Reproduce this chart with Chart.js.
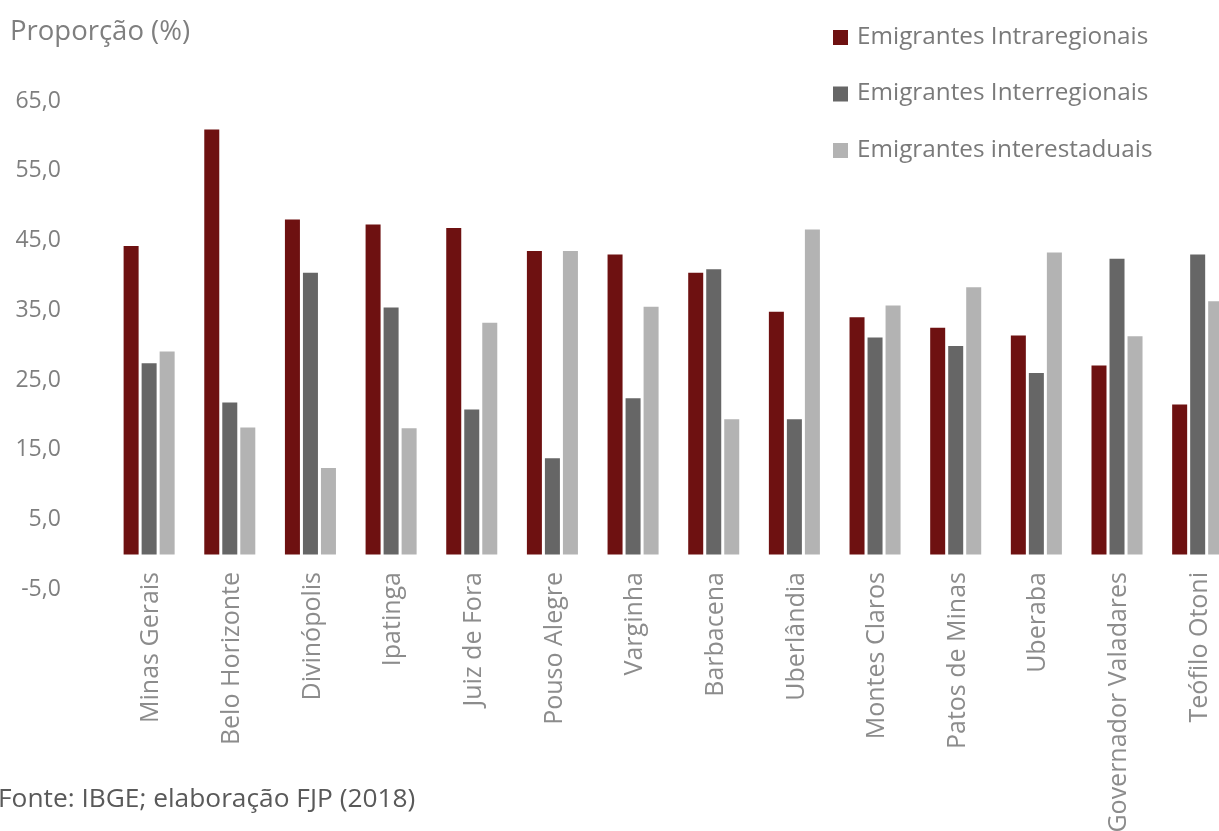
<!DOCTYPE html>
<html lang="pt-BR">
<head>
<meta charset="utf-8">
<title>Emigrantes por região</title>
<script src="https://cdn.jsdelivr.net/npm/chart.js@4.4.1/dist/chart.umd.min.js"></script>
<style>
  html, body { margin: 0; padding: 0; background: #fff; overflow: hidden; }
  #wrap { position: relative; width: 1219px; height: 831px; overflow: hidden; }
  #grafico { position: absolute; left: 0; top: 0; }
</style>
</head>
<body>
<div id="wrap"><canvas id="grafico" width="1240" height="831"></canvas></div>
<script>
const cidades = [
  "Minas Gerais", "Belo Horizonte", "Divinópolis", "Ipatinga", "Juiz de Fora",
  "Pouso Alegre", "Varginha", "Barbacena", "Uberlândia", "Montes Claros",
  "Patos de Minas", "Uberaba", "Governador Valadares", "Teófilo Otoni"
];
const intraregionais = [44.2, 60.9, 48.0, 47.3, 46.8, 43.5, 43.0, 40.4, 34.8, 34.0, 32.5, 31.4, 27.1, 21.5];
const interregionais = [27.4, 21.8, 40.4, 35.4, 20.8, 13.8, 22.4, 40.9, 19.4, 31.1, 29.9, 26.0, 42.4, 43.0];
const interestaduais = [29.1, 18.2, 12.4, 18.1, 33.2, 43.5, 35.5, 19.4, 46.6, 35.7, 38.3, 43.3, 31.3, 36.3];
const ticksY = [-5, 5, 15, 25, 35, 45, 55, 65];

const FONTE = "'Open Sans', 'Noto Sans', sans-serif";

// title, stacked legend, source line and the vertical city names
// (the names sit a little above the -5 line, so the scale can't draw them)
const textos = {
  id: "textos",
  afterDraw(chart) {
    const ctx = chart.ctx;
    ctx.save();
    ctx.textBaseline = "middle";
    ctx.textAlign = "left";

    ctx.font = "27.5px " + FONTE;
    ctx.fillStyle = "#7f7f7f";
    ctx.fillText("Proporção (%)", 10, 32);

    ctx.font = "24.3px " + FONTE;
    chart.data.datasets.forEach((ds, i) => {
      const y = 37 + i * 56.5;
      ctx.fillStyle = ds.backgroundColor;
      ctx.fillRect(833, y - 7, 15, 15);
      ctx.fillStyle = "#7a7a7a";
      ctx.fillText(ds.label, 857, y);
    });

    ctx.font = "26.3px " + FONTE;
    ctx.fillStyle = "#595959";
    ctx.fillText("Fonte: IBGE; elaboração FJP (2018)", -2, 800);

    const x = chart.scales.x;
    ctx.font = "25px " + FONTE;
    ctx.fillStyle = "#8c8c8c";
    ctx.textAlign = "right";
    chart.data.labels.forEach((nome, i) => {
      ctx.save();
      ctx.translate(x.getPixelForValue(i) + 2, 572);
      ctx.rotate(-Math.PI / 2);
      ctx.fillText(nome, 0, 0);
      ctx.restore();
    });
    ctx.restore();
  }
};

new Chart(document.getElementById("grafico"), {
  type: "bar",
  data: {
    labels: cidades,
    datasets: [
      { label: "Emigrantes Intraregionais", data: intraregionais, backgroundColor: "#6e1111" },
      { label: "Emigrantes Interregionais", data: interregionais, backgroundColor: "#666666" },
      { label: "Emigrantes interestaduais", data: interestaduais, backgroundColor: "#b3b3b3" },
    ],
  },
  options: {
    responsive: false,
    animation: false,
    categoryPercentage: 0.67,
    barPercentage: 0.833,
    layout: {
      padding: { top: 101, right: 2, bottom: 0, left: 0 },
    },
    plugins: {
      legend: { display: false },
      tooltip: { enabled: false },
    },
    scales: {
      x: {
        grid: { display: false, drawTicks: false },
        border: { display: false },
        afterFit: (scale) => { scale.height = 241.6; },
        ticks: { display: false },
      },
      y: {
        min: -5,
        max: 65,
        grid: { display: false, drawTicks: false },
        border: { display: false },
        afterFit: (scale) => { scale.width = 108.8; },
        afterBuildTicks: (axis) => {
          axis.ticks = ticksY.map((v) => ({ value: v }));
        },
        ticks: {
          padding: 48,
          color: "#7f7f7f",
          font: { family: FONTE, size: 23 },
          callback: (v) => v.toFixed(1).replace(".", ","),
        },
      },
    },
  },
  plugins: [textos],
});
</script>
</body>
</html>
